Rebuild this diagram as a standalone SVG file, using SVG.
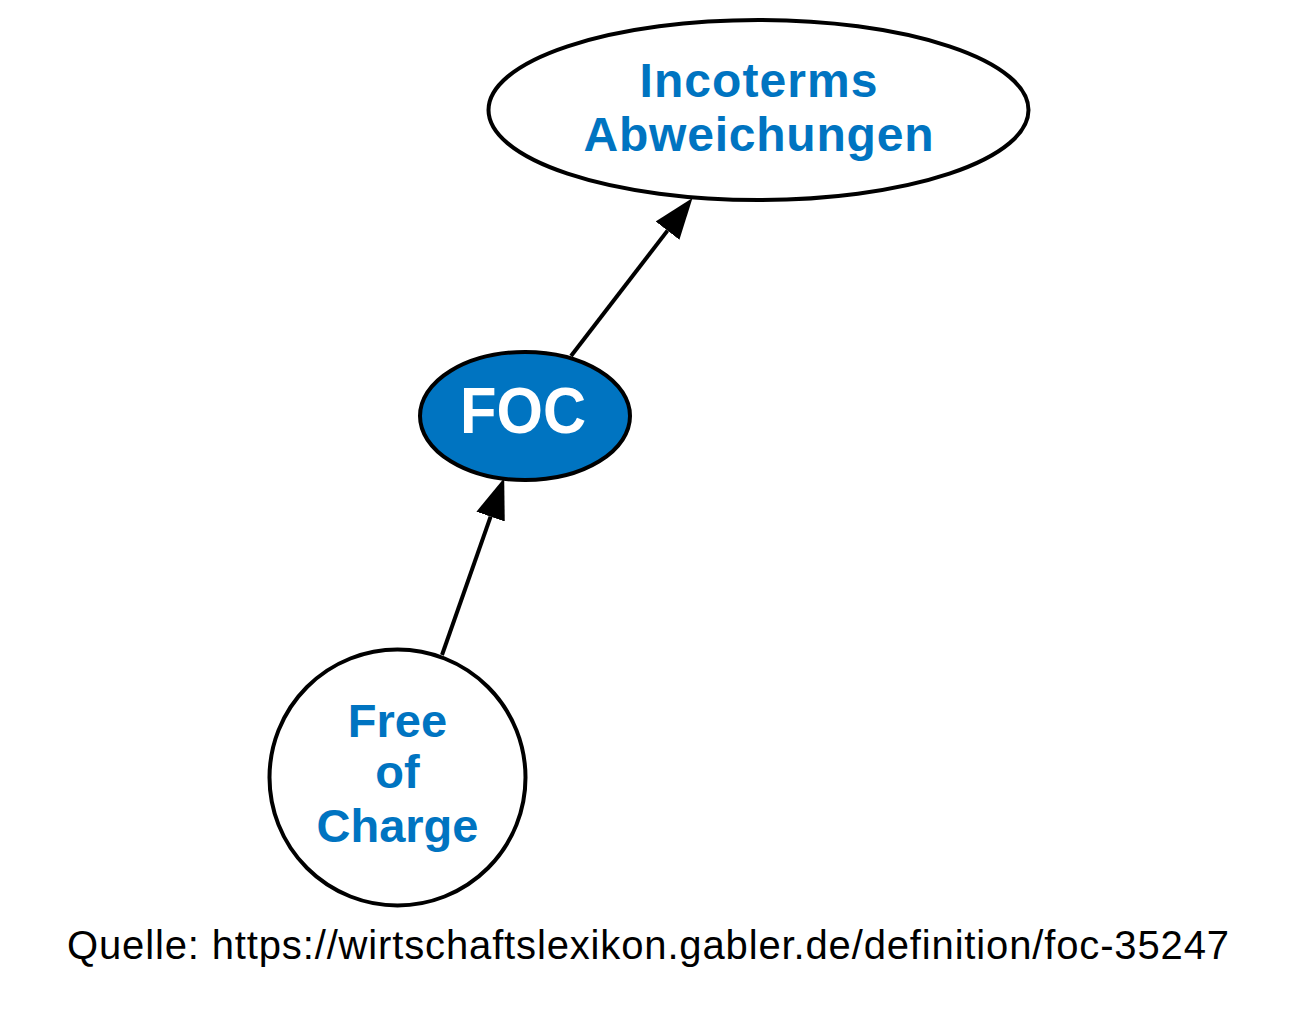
<svg xmlns="http://www.w3.org/2000/svg" width="1300" height="1017" viewBox="0 0 1300 1017">
<style>
.node{stroke:#000;stroke-width:4}
.lbl{font-family:"Liberation Sans",Arial,sans-serif;font-weight:bold;fill:#0074c1;text-anchor:middle}
.edge{stroke:#000;stroke-width:4;fill:none}
.foot{font-family:"Liberation Sans",Arial,sans-serif;font-size:40px;fill:#000;text-anchor:middle}
</style>
<defs>
<marker id="arr" markerUnits="userSpaceOnUse" markerWidth="44" markerHeight="34" refX="0" refY="15" orient="auto" viewBox="0 0 44 34">
<path d="M0,0 L41,15 L0,30 z" fill="#000"/>
</marker>
</defs>
<rect width="1300" height="1017" fill="#fff"/>
<g id="connectors">
<line class="edge" x1="442" y1="655" x2="490.6" y2="516.6" marker-end="url(#arr)"/>
<line class="edge" x1="571" y1="356" x2="667.5" y2="230.6" marker-end="url(#arr)"/>
</g>
<g id="node-incoterms">
<ellipse class="node" cx="758.5" cy="110" rx="270" ry="90" fill="#fff"/>
<text class="lbl" x="758.5" y="97" font-size="48" textLength="238" lengthAdjust="spacing">Incoterms</text>
<text class="lbl" x="758.5" y="151" font-size="48" textLength="350" lengthAdjust="spacing">Abweichungen</text>
</g>
<g id="node-foc">
<ellipse class="node" cx="525" cy="416" rx="105" ry="64" fill="#0074c1"/>
<text class="lbl" x="523" y="433" font-size="64" style="fill:#fff" textLength="126" lengthAdjust="spacingAndGlyphs">FOC</text>
</g>
<g id="node-free-of-charge">
<circle class="node" cx="397.5" cy="777.5" r="128" fill="#fff"/>
<text class="lbl" x="397.5" y="737" font-size="47">Free</text>
<text class="lbl" x="397.5" y="788" font-size="47">of</text>
<text class="lbl" x="397.5" y="842" font-size="47">Charge</text>
</g>
<text class="foot" x="648" y="959" textLength="1162" lengthAdjust="spacing">Quelle: https://wirtschaftslexikon.gabler.de/definition/foc-35247</text>
</svg>
